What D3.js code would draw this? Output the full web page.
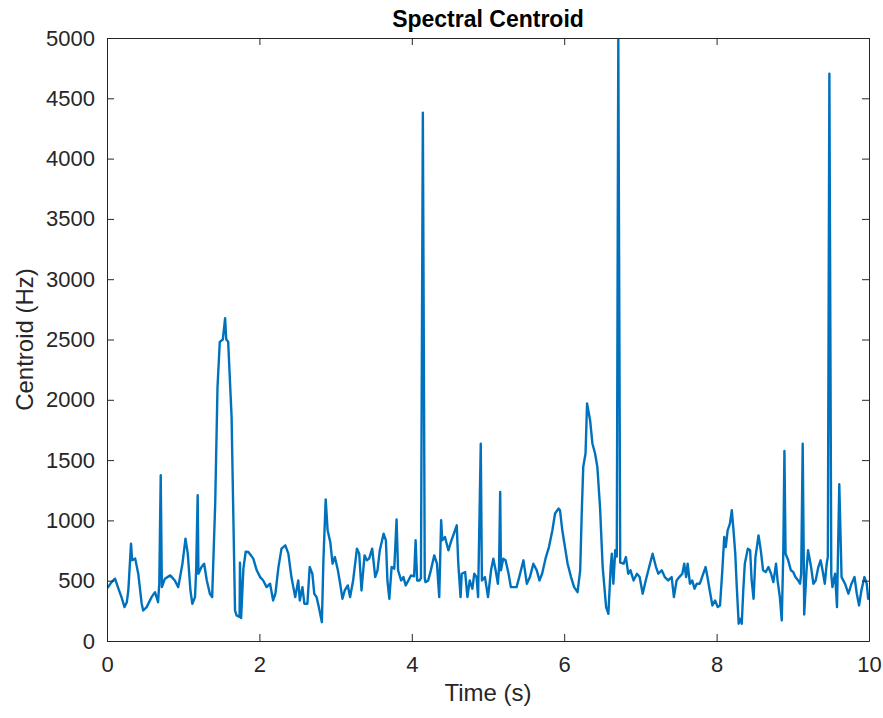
<!DOCTYPE html>
<html>
<head>
<meta charset="utf-8">
<script src="https://cdn.jsdelivr.net/npm/d3@7"></script>
<style>
  body { margin: 0; background: #fff; }
  svg { font-family: "Liberation Sans", Arial, sans-serif; }
</style>
</head>
<body>
<svg width="883" height="718"></svg>
<script>
// time (s) and centroid (Hz)
var timeS = [
  0.00, 0.06, 0.105, 0.15, 0.19, 0.23, 0.26, 0.28, 0.315, 0.33, 0.37, 0.41, 0.455, 0.475, 0.52,
  0.585, 0.63, 0.67, 0.686, 0.705, 0.72, 0.76, 0.83, 0.89, 0.935, 0.99, 1.03, 1.06, 1.095, 1.12,
  1.155, 1.17, 1.19, 1.20, 1.24, 1.275, 1.31, 1.35, 1.38, 1.42, 1.45, 1.48, 1.52, 1.55, 1.565,
  1.59, 1.635, 1.68, 1.70, 1.74, 1.745, 1.76, 1.79, 1.82, 1.855, 1.92, 1.965, 2.01, 2.05, 2.095,
  2.14, 2.18, 2.21, 2.25, 2.29, 2.34, 2.38, 2.42, 2.47, 2.51, 2.53, 2.565, 2.59, 2.63, 2.66,
  2.695, 2.72, 2.75, 2.78, 2.82, 2.84, 2.87, 2.895, 2.93, 2.96, 2.99, 3.03, 3.06, 3.09, 3.12,
  3.16, 3.19, 3.23, 3.28, 3.31, 3.34, 3.38, 3.41, 3.44, 3.48, 3.52, 3.55, 3.58, 3.63, 3.66,
  3.68, 3.705, 3.735, 3.77, 3.80, 3.82, 3.86, 3.89, 3.92, 3.955, 3.99, 4.03, 4.05, 4.07, 4.10,
  4.12, 4.145, 4.17, 4.18, 4.215, 4.25, 4.295, 4.33, 4.36, 4.385, 4.40, 4.435, 4.48, 4.52, 4.56,
  4.59, 4.61, 4.64, 4.655, 4.70, 4.73, 4.76, 4.795, 4.82, 4.85, 4.87, 4.905, 4.92, 4.96, 5.00,
  5.04, 5.07, 5.10, 5.13, 5.145, 5.16, 5.17, 5.20, 5.23, 5.27, 5.30, 5.345, 5.375, 5.41, 5.465,
  5.51, 5.55, 5.595, 5.64, 5.675, 5.71, 5.76, 5.80, 5.845, 5.88, 5.925, 5.945, 5.975, 6.01, 6.045,
  6.09, 6.13, 6.175, 6.21, 6.23, 6.25, 6.28, 6.30, 6.34, 6.37, 6.405, 6.435, 6.47, 6.505, 6.55,
  6.58, 6.61, 6.625, 6.645, 6.67, 6.69, 6.71, 6.735, 6.78, 6.81, 6.84, 6.87, 6.91, 6.955, 6.99,
  7.03, 7.07, 7.115, 7.16, 7.205, 7.235, 7.28, 7.32, 7.365, 7.41, 7.44, 7.475, 7.51, 7.55, 7.575,
  7.60, 7.62, 7.65, 7.68, 7.71, 7.74, 7.78, 7.825, 7.855, 7.88, 7.91, 7.945, 7.98, 8.015, 8.045,
  8.075, 8.10, 8.12, 8.145, 8.175, 8.20, 8.22, 8.245, 8.265, 8.29, 8.31, 8.33, 8.35, 8.37, 8.41,
  8.44, 8.46, 8.485, 8.51, 8.55, 8.58, 8.61, 8.645, 8.68, 8.715, 8.745, 8.78, 8.80, 8.83, 8.855,
  8.875, 8.89, 8.905, 8.94, 8.975, 9.005, 9.035, 9.07, 9.095, 9.11, 9.13, 9.15, 9.18, 9.20, 9.24,
  9.27, 9.30, 9.335, 9.365, 9.39, 9.42, 9.445, 9.46, 9.48, 9.505, 9.52, 9.555, 9.58, 9.61, 9.64,
  9.685, 9.73, 9.77, 9.81, 9.84, 9.87, 9.90, 9.94, 9.97, 9.99, 10.00
];
var centroidHz = [
  434, 488, 517, 434, 364, 281, 322, 419, 807, 669, 683, 558, 309, 253, 281,
  364, 405, 322, 475, 1375, 447, 517, 544, 502, 447, 641, 849, 724, 419, 309,
  364, 586, 1208, 558, 613, 641, 502, 392, 364, 1140, 2100, 2480, 2500, 2676, 2500,
  2482, 1859, 253, 212, 200, 650, 190, 600, 740, 738, 683, 586, 530, 502, 447,
  475, 336, 392, 613, 766, 793, 724, 530, 364, 502, 336, 447, 309, 309, 613,
  558, 392, 364, 281, 156, 669, 1173, 918, 821, 641, 696, 586, 475, 350, 419,
  461, 364, 502, 766, 724, 419, 710, 669, 683, 766, 530, 586, 752, 890, 835,
  502, 350, 613, 600, 1007, 586, 502, 530, 461, 502, 544, 536, 835, 502, 502,
  520, 4380, 520, 488, 502, 586, 710, 641, 364, 1001, 835, 862, 752, 835, 904,
  959, 641, 364, 558, 572, 364, 502, 434, 558, 530, 364, 1635, 502, 530, 364,
  586, 683, 586, 475, 613, 1236, 586, 683, 669, 558, 447, 447, 447, 530, 669,
  475, 530, 641, 586, 502, 558, 696, 779, 918, 1057, 1098, 1084, 918, 779, 641,
  530, 447, 405, 586, 1057, 1444, 1555, 1970, 1831, 1638, 1555, 1444, 1111, 613, 281,
  226, 613, 724, 475, 752, 700, 5000, 650, 641, 696, 558, 586, 502, 558, 530,
  392, 502, 613, 724, 613, 558, 586, 530, 502, 530, 364, 502, 530, 558, 641,
  530, 641, 475, 502, 434, 475, 475, 558, 613, 530, 419, 295, 336, 281, 295,
  586, 862, 779, 918, 973, 1084, 932, 724, 447, 143, 184, 143, 419, 641, 766,
  752, 502, 350, 696, 876, 752, 586, 572, 613, 558, 488, 641, 502, 364, 170,
  724, 1575, 724, 669, 586, 572, 530, 502, 475, 558, 1635, 220, 586, 752, 613,
  475, 502, 613, 669, 586, 475, 641, 700, 4705, 550, 447, 558, 281, 1300, 530,
  475, 392, 475, 530, 392, 295, 419, 530, 475, 350, 394
];
var xTicks = [0, 2, 4, 6, 8, 10];
var yTicks = [0, 500, 1000, 1500, 2000, 2500, 3000, 3500, 4000, 4500, 5000];

var svg = d3.select("svg");
var margin = {left: 107, right: 14, top: 38, bottom: 77};
var width = +svg.attr("width") - margin.left - margin.right,
    height = +svg.attr("height") - margin.top - margin.bottom;

var axisColor = "#262626";

var x = d3.scaleLinear().domain([0, 10]).range([0, width]);
var y = d3.scaleLinear().domain([0, 5000]).range([height, 0]);

var g = svg.append("g").attr("transform", "translate(" + margin.left + "," + margin.top + ")");

// line
var points = timeS.map(function(t, i) { return {t: t, v: centroidHz[i]}; });
var line = d3.line()
    .x(function(d) { return x(d.t); })
    .y(function(d) { return y(d.v); });

g.append("defs").append("clipPath").attr("id", "clip")
  .append("rect").attr("width", width).attr("height", height);

g.append("path")
    .datum(points)
    .attr("clip-path", "url(#clip)")
    .attr("fill", "none")
    .attr("stroke", "#0072BD")
    .attr("stroke-width", 2.4)
    .attr("stroke-linejoin", "round")
    .attr("d", line);

// axes, MATLAB style: ticks inside, box around
function styleAxis(sel) {
  sel.selectAll("path").attr("stroke", axisColor);
  sel.selectAll("line").attr("stroke", axisColor);
  sel.selectAll("text").attr("fill", axisColor).style("font-size", "22px");
}

g.append("g")
    .attr("transform", "translate(0," + height + ")")
    .call(d3.axisBottom(x).tickValues(xTicks).tickSizeInner(-7).tickSizeOuter(0).tickPadding(15).tickFormat(d3.format("d")))
    .call(styleAxis);

g.append("g")
    .call(d3.axisTop(x).tickValues(xTicks).tickSizeInner(-7).tickSizeOuter(0).tickFormat(""))
    .call(styleAxis);

g.append("g")
    .call(d3.axisLeft(y).tickValues(yTicks).tickSizeInner(-7).tickSizeOuter(0).tickPadding(12).tickFormat(d3.format("d")))
    .call(styleAxis);

g.append("g")
    .attr("transform", "translate(" + width + ",0)")
    .call(d3.axisRight(y).tickValues(yTicks).tickSizeInner(-7).tickSizeOuter(0).tickFormat(""))
    .call(styleAxis);

// labels
svg.append("text")
    .attr("x", margin.left + width / 2)
    .attr("y", 27)
    .attr("text-anchor", "middle")
    .attr("fill", "#000")
    .style("font-size", "23px")
    .style("font-weight", "bold")
    .text("Spectral Centroid");

svg.append("text")
    .attr("x", margin.left + width / 2)
    .attr("y", 701)
    .attr("text-anchor", "middle")
    .attr("fill", axisColor)
    .style("font-size", "24px")
    .text("Time (s)");

svg.append("text")
    .attr("transform", "translate(33," + (margin.top + height / 2) + ") rotate(-90)")
    .attr("text-anchor", "middle")
    .attr("fill", axisColor)
    .style("font-size", "24px")
    .text("Centroid (Hz)");
</script>
</body>
</html>
